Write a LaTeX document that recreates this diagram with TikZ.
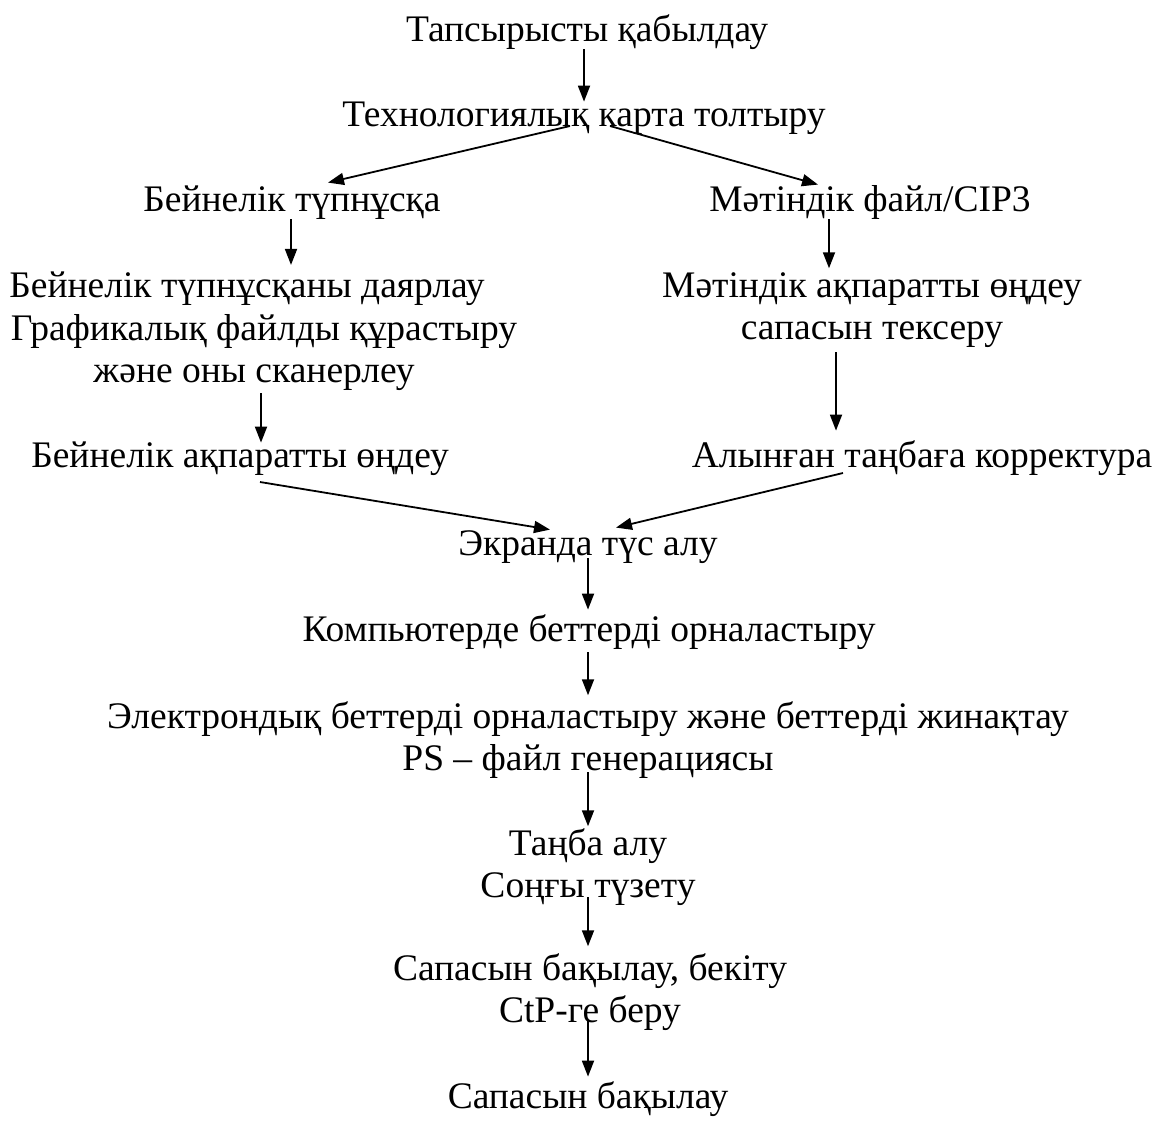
\documentclass[tikz,border=0pt]{standalone}
\usepackage{fontspec}
\setmainfont{Liberation Serif}
\usetikzlibrary{arrows.meta}
\tikzset{
  lbl/.style={font=\fontsize{37.5pt}{42.5pt}\selectfont, inner sep=0pt, text depth=9pt, align=center, anchor=south},
  one/.style={lbl, text height=26pt},
  arr/.style={line width=1.8pt, -{Triangle[length=16pt,width=12pt]}}
}
\begin{document}
\begin{tikzpicture}[x=1pt,y=-1pt]
\useasboundingbox (0,0) rectangle (1156,1120);
% anchor south = last baseline + 9
\node[one] (T1) at (587,51) {Тапсырысты қабылдау};
\node[one] (T2) at (584,136) {Технологиялық карта толтыру};
\node[one] (T3L) at (292,221) {Бейнелік түпнұсқа};
\node[one] (T3R) at (870,221) {Мәтіндік файл/CIP3};
\node[lbl] (T4L) at (264,392) {Бейнелік түпнұсқаны даярлау\rule{34pt}{0pt}\\Графикалық файлды құрастыру\\және оны сканерлеу\rule{20pt}{0pt}};
\node[lbl] (T4R) at (872,349) {Мәтіндік ақпаратты өңдеу\\сапасын тексеру};
\node[one] (T5L) at (240,477) {Бейнелік ақпаратты өңдеу};
\node[one] (T5R) at (922,477) {Алынған таңбаға корректура};
\node[one] (T6) at (588,565) {Экранда түс алу};
\node[one] (T7) at (589,651) {Компьютерде беттерді орналастыру};
\node[lbl] (T8) at (588,780) {Электрондық беттерді орналастыру және беттерді жинақтау\\PS – файл генерациясы};
\node[lbl] (T9) at (588,907) {Таңба алу\\Соңғы түзету};
\node[lbl] (T10) at (590,1032) {Сапасын бақылау, бекіту\\CtP-ге беру};
\node[one] (T11) at (588,1118) {Сапасын бақылау};

\draw[arr] ([xshift=-3pt,yshift=2pt]T1.south) -- ([yshift=-1pt]T2.north);
\draw[arr] ([xshift=-14pt,yshift=10pt]T2.south) -- ([xshift=36pt,yshift=3pt]T3L.north);
\draw[arr] ([xshift=26pt,yshift=10pt]T2.south) -- ([xshift=-52pt,yshift=1pt]T3R.north);
\draw[arr] ([xshift=-1pt,yshift=2pt]T3L.south) -- ([xshift=27pt,yshift=7pt]T4L.north);
\draw[arr] ([xshift=-41pt,yshift=2pt]T3R.south) -- ([xshift=-43pt,yshift=4pt]T4R.north);
\draw[arr] ([xshift=-3pt,yshift=-1pt]T4L.south) -- ([xshift=21pt,yshift=-1pt]T5L.north);
\draw[arr] ([xshift=-36pt,yshift=-3pt]T4R.south) -- ([xshift=-86pt,yshift=11pt]T5R.north);
\draw[arr] ([xshift=20pt,yshift=-5pt]T5L.south) -- ([xshift=-38pt]T6.north);
\draw[arr] ([xshift=-79pt,yshift=4pt]T5R.south) -- ([xshift=28pt,yshift=2pt]T6.north);
\draw[arr] ([yshift=7pt]T6.south) -- ([xshift=-1pt,yshift=6pt]T7.north);
\draw[arr] ([xshift=-1pt,yshift=-1pt]T7.south) -- ([yshift=6pt]T8.north);
\draw[arr] ([yshift=8pt]T8.south) -- ([yshift=2pt]T9.north);
\draw[arr] ([yshift=10pt]T9.south) -- ([xshift=-2pt,yshift=7pt]T10.north);
\draw[arr] ([xshift=-2pt,yshift=12pt]T10.south) -- ([yshift=6pt]T11.north);
\end{tikzpicture}
\end{document}
